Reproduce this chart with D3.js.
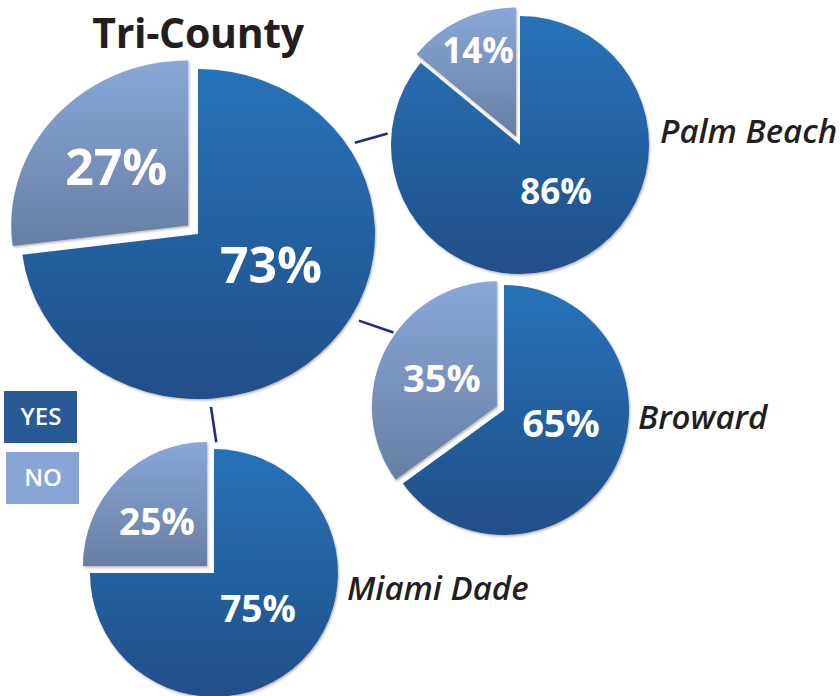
<!DOCTYPE html>
<html>
<head>
<meta charset="utf-8">
<script src="https://cdn.jsdelivr.net/npm/d3@7/dist/d3.min.js"></script>
<style>
  html, body { margin: 0; padding: 0; background: #ffffff; }
  svg { display: block; }
  text { font-family: "Open Sans", "Noto Sans", sans-serif; }
</style>
</head>
<body>
<svg id="chart" width="840" height="696"></svg>
<script>
// ---------------- data ----------------
const groups = ["Tri-County", "Palm Beach", "Broward", "Miami Dade"];
const yesValues = [73, 86, 65, 75];
const noValues = [27, 14, 35, 25];
const answers = ["YES", "NO"];

// ---------------- layout ----------------
const pieLayout = [
  { cx: 198, cy: 234, rx: 177, ry: 165, explode: 13,  fontSize: 50,
    labelOffsets: [[73, 49], [-72, -40]], nameAt: null },
  { cx: 520, cy: 145, rx: 129, ry: 129, explode: 9.5, fontSize: 35,
    labelOffsets: [[36, 59], [-38, -73]], nameAt: [140, -2] },
  { cx: 504, cy: 410, rx: 125, ry: 125, explode: 8,   fontSize: 38,
    labelOffsets: [[57, 27], [-55, -14]], nameAt: [134, 19] },
  { cx: 214, cy: 573, rx: 124, ry: 124, explode: 10,  fontSize: 37,
    labelOffsets: [[44, 49], [-50, -31]], nameAt: [133, 27] }
];
// connectors: from main pie angle to satellite pie angle (degrees clockwise from top)
const connectors = [
  { to: 1, fromAngle: 58,  toAngle: 275, gapFrom: 1.045, gapTo: 1.03 },
  { to: 2, fromAngle: 120, toAngle: 305, gapFrom: 1.05,  gapTo: 1.08 },
  { to: 3, fromAngle: 176, toAngle: 1,   gapFrom: 1.05,  gapTo: 1.055 }
];

const colors = {
  yesTop: "#2872b8", yesBottom: "#204f89",
  noTop: "#88a8d9", noBottom: "#687ea3",
  yesBox: "#2a5a95", noBox: "#88a6d5",
  connector: "#1f2a8c", text: "#231f20"
};

const svg = d3.select("#chart");
const defs = svg.append("defs");

function grad(id, c1, c2) {
  const g = defs.append("linearGradient").attr("id", id)
    .attr("x1", 0).attr("y1", 0).attr("x2", 0).attr("y2", 1);
  g.append("stop").attr("offset", "0%").attr("stop-color", c1);
  g.append("stop").attr("offset", "100%").attr("stop-color", c2);
}
grad("gYes", colors.yesTop, colors.yesBottom);
grad("gNo", colors.noTop, colors.noBottom);

const shadow = defs.append("filter").attr("id", "shadow")
  .attr("x", "-10%").attr("y", "-10%").attr("width", "130%").attr("height", "130%");
shadow.append("feDropShadow").attr("dx", 1).attr("dy", 1.5)
  .attr("stdDeviation", 1.2).attr("flood-color", "#000").attr("flood-opacity", 0.3);

const pie = d3.pie().sort(null).value(d => d.value);

// connectors (drawn first, below pies)
const main = pieLayout[0];
function pointOn(p, angleDeg, factor) {
  const a = angleDeg * Math.PI / 180;
  return [p.cx + p.rx * factor * Math.sin(a), p.cy - p.ry * factor * Math.cos(a)];
}
svg.append("g").selectAll("line").data(connectors).join("line")
  .attr("x1", d => pointOn(main, d.fromAngle, d.gapFrom)[0])
  .attr("y1", d => pointOn(main, d.fromAngle, d.gapFrom)[1])
  .attr("x2", d => pointOn(pieLayout[d.to], d.toAngle, d.gapTo)[0])
  .attr("y2", d => pointOn(pieLayout[d.to], d.toAngle, d.gapTo)[1])
  .attr("stroke", colors.connector).attr("stroke-width", 2.6);

groups.forEach((name, i) => {
  const L = pieLayout[i];
  const data = [
    { key: "YES", value: yesValues[i] },
    { key: "NO", value: noValues[i] }
  ];
  const arcs = pie(data);
  const arc = d3.arc().innerRadius(0).outerRadius(L.rx);
  const k = L.ry / L.rx;
  const g = svg.append("g").attr("transform", `translate(${L.cx},${L.cy}) scale(1,${k})`);

  g.selectAll("path").data(arcs).join("path")
    .attr("transform", d => {
      if (d.data.key !== "NO") return null;
      const mid = (d.startAngle + d.endAngle) / 2;
      const ex = L.explode * Math.sin(mid);
      const ey = -L.explode * Math.cos(mid) / k;
      return `translate(${ex},${ey})`;
    })
    .attr("d", arc)
    .attr("fill", d => d.data.key === "YES" ? "url(#gYes)" : "url(#gNo)")
    .attr("filter", "url(#shadow)");

  // percentage labels
  arcs.forEach((d, j) => {
    let vx = L.cx, vy = L.cy;
    if (d.data.key === "NO") {
      const mid = (d.startAngle + d.endAngle) / 2;
      vx += L.explode * Math.sin(mid);
      vy -= L.explode * Math.cos(mid);
    }
    const off = L.labelOffsets[j];
    svg.append("text")
      .attr("x", vx + off[0]).attr("y", vy + off[1])
      .attr("text-anchor", "middle")
      .attr("font-size", L.fontSize).attr("font-weight", 700)
      .attr("fill", "#ffffff")
      .text(d.data.value + "%");
  });

  // name labels
  if (L.nameAt) {
    svg.append("text")
      .attr("x", L.cx + L.nameAt[0]).attr("y", L.cy + L.nameAt[1])
      .attr("font-size", 33).attr("font-weight", 600).attr("font-style", "italic")
      .attr("fill", colors.text)
      .text(name);
  }
});

// title
svg.append("text")
  .attr("x", 198).attr("y", 48).attr("text-anchor", "middle")
  .attr("font-size", 41).attr("font-weight", 700).attr("fill", colors.text)
  .attr("letter-spacing", -0.3)
  .text(groups[0]);

// legend
const legend = svg.append("g");
const legendBoxes = [
  { x: 4, y: 391, fill: colors.yesBox },
  { x: 6, y: 452, fill: colors.noBox }
];
answers.forEach((a, i) => {
  const b = legendBoxes[i];
  legend.append("rect").attr("x", b.x).attr("y", b.y)
    .attr("width", 73).attr("height", 52).attr("fill", b.fill);
  legend.append("text").attr("x", b.x + 37).attr("y", b.y + 34)
    .attr("text-anchor", "middle").attr("font-size", 24).attr("font-weight", 600)
    .attr("fill", "#ffffff").text(a);
});
</script>
</body>
</html>
